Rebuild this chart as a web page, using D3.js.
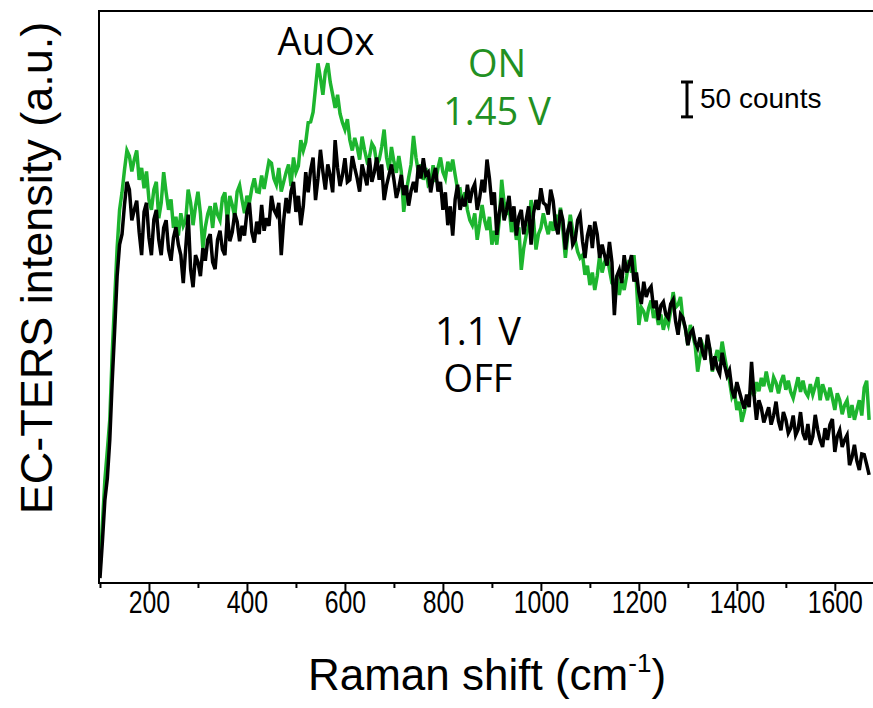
<!DOCTYPE html>
<html>
<head>
<meta charset="utf-8">
<script src="https://cdn.jsdelivr.net/npm/d3@7"></script>
<style>
  body { margin: 0; background: #fff; }
  svg { display: block; }
</style>
</head>
<body>
<div id="chart"></div>
<script>
// Raman shift axis: main readings every 10 cm-1, extra readings in between
var shift = d3.range(100, 1671, 10);
var shiftMid = d3.range(105, 1666, 10);

// 1.1 V (OFF), counts
var offCounts = [
  7, 119, 205, 363, 485, 542, 564, 535, 503, 532,
  495, 521, 492, 509, 478, 495, 485, 430, 528, 424,
  460, 480, 492, 460, 492, 478, 528, 503, 518, 512,
  532, 503, 518, 542, 523, 555, 528, 470, 552, 561,
  532, 513, 589, 592, 549, 621, 564, 584, 635, 569,
  609, 578, 595, 561, 585, 609, 589, 578, 549, 585,
  578, 566, 556, 541, 575, 599, 609, 589, 581, 561,
  535, 513, 498, 571, 549, 571, 564, 535, 578, 607,
  542, 499, 552, 535, 518, 498, 535, 521, 485, 549,
  566, 542, 564, 513, 535, 478, 518, 492, 528, 466,
  513, 518, 466, 470, 489, 384, 449, 470, 456, 432,
  417, 432, 420, 394, 377, 403, 380, 406, 356, 380,
  341, 363, 337, 331, 356, 305, 308, 330, 297, 277,
  288, 262, 270, 317, 234, 251, 241, 227, 260, 219,
  234, 222, 212, 245, 205, 198, 241, 205, 222, 227,
  188, 219, 205, 169, 198, 162, 184, 155
];
var offCountsMid = [
  60, 150, 290, 440, 500, 575, 520, 548, 470, 545,
  470, 535, 470, 520, 462, 510, 470, 480, 450, 470,
  440, 462, 500, 450, 505, 470, 490, 530, 490, 498,
  545, 488, 500, 505, 512, 535, 545, 520, 530, 575,
  555, 540, 560, 610, 580, 590, 600, 560, 595, 585,
  575, 612, 580, 600, 570, 575, 610, 600, 570, 600,
  552, 585, 570, 562, 560, 580, 585, 560, 595, 575,
  560, 540, 550, 535, 540, 545, 572, 552, 560, 580,
  560, 530, 520, 555, 540, 525, 500, 540, 530, 535,
  545, 528, 548, 500, 520, 505, 485, 520, 490, 498,
  480, 500, 485, 455, 460, 440, 430, 445, 470, 445,
  400, 410, 425, 405, 398, 385, 400, 375, 385, 365,
  358, 345, 352, 320, 335, 325, 300, 312, 305, 265,
  275, 250, 252, 270, 262, 230, 252, 240, 232, 245,
  215, 240, 220, 215, 228, 210, 220, 195, 205, 235,
  210, 195, 212, 180, 175, 185, 170
];

// 1.45 V (ON), counts
var onCounts = [
  19, 148, 234, 406, 535, 592, 612, 607, 578, 566,
  549, 564, 523, 589, 535, 509, 498, 512, 564, 513,
  561, 480, 529, 509, 528, 552, 518, 542, 561, 549,
  555, 566, 561, 584, 585, 602, 571, 561, 589, 569,
  589, 635, 632, 661, 710, 724, 733, 718, 681, 673,
  650, 635, 638, 607, 621, 611, 624, 607, 650, 592,
  604, 612, 532, 581, 641, 589, 578, 571, 599, 595,
  589, 604, 607, 564, 542, 535, 513, 492, 542, 506,
  485, 485, 578, 528, 503, 492, 449, 499, 549, 478,
  509, 513, 518, 528, 538, 466, 528, 492, 466, 442,
  427, 420, 470, 460, 449, 427, 413, 420, 463, 470,
  370, 389, 394, 380, 370, 363, 370, 417, 399, 377,
  341, 356, 303, 341, 348, 303, 334, 346, 305, 267,
  248, 231, 262, 280, 288, 294, 303, 274, 287, 288,
  277, 274, 280, 274, 274, 285, 282, 262, 274, 280,
  248, 262, 255, 237, 234, 262, 280, 234
];
var onCountsMid = [
  85, 190, 330, 480, 560, 620, 590, 620, 595, 590,
  535, 575, 545, 560, 550, 525, 530, 520, 545, 540,
  530, 510, 540, 545, 520, 560, 555, 525, 570, 530,
  545, 580, 560, 565, 605, 580, 595, 575, 600, 610,
  598, 620, 660, 675, 745, 700, 745, 700, 700, 660,
  665, 620, 625, 640, 605, 630, 600, 625, 610, 625,
  588, 590, 560, 600, 610, 600, 595, 575, 575, 610,
  580, 590, 585, 565, 560, 520, 530, 515, 520, 525,
  505, 520, 545, 540, 520, 510, 480, 510, 520, 500,
  530, 500, 505, 515, 505, 500, 505, 475, 470, 455,
  445, 440, 445, 470, 430, 440, 435, 440, 445, 430,
  395, 375, 405, 390, 385, 380, 390, 395, 410, 365,
  370, 340, 325, 330, 335, 320, 318, 325, 290, 275,
  260, 245, 268, 268, 275, 282, 285, 295, 272, 298,
  290, 265, 295, 290, 268, 270, 295, 285, 262, 265,
  272, 242, 262, 255, 248, 240, 290
];

var xTicks = [200, 400, 600, 800, 1000, 1200, 1400, 1600];
var xMinorTicks = [100, 300, 500, 700, 900, 1100, 1300, 1500];

var width = 873,
    height = 708,
    plotLeft = 99,
    plotTop = 11,
    plotRight = 875,
    plotBottom = 583;

var offColor = "#000000",
    onLine = "#1db52e",
    onText = "#229022";

// merge the two sets of readings into one spectrum
function spectrum(xs, ys, xsMid, ysMid) {
    var pts = d3.zip(xs, ys).concat(d3.zip(xsMid, ysMid));
    return pts.sort(function (a, b) { return a[0] - b[0]; });
}

var svg = d3.select("#chart").append("svg")
    .attr("width", width)
    .attr("height", height);

var x = d3.scaleLinear().domain([98, 1682]).range([plotLeft, plotRight]);
var y = d3.scaleLinear().domain([0, 820]).range([plotBottom, plotTop]);

svg.append("clipPath").attr("id", "plotArea")
  .append("rect")
    .attr("x", plotLeft)
    .attr("y", plotTop)
    .attr("width", plotRight - plotLeft)
    .attr("height", plotBottom - plotTop);

var line = d3.line()
    .x(function (d) { return x(d[0]); })
    .y(function (d) { return y(d[1]); });

var plot = svg.append("g").attr("clip-path", "url(#plotArea)");

plot.append("path")
    .datum(spectrum(shift, onCounts, shiftMid, onCountsMid))
    .attr("d", line)
    .style("fill", "none")
    .style("stroke", onLine)
    .style("stroke-width", "3.5px");

plot.append("path")
    .datum(spectrum(shift, offCounts, shiftMid, offCountsMid))
    .attr("d", line)
    .style("fill", "none")
    .style("stroke", offColor)
    .style("stroke-width", "3.5px");

// frame
svg.append("rect")
    .attr("x", plotLeft)
    .attr("y", plotTop)
    .attr("width", plotRight - plotLeft)
    .attr("height", plotBottom - plotTop)
    .style("fill", "none")
    .style("stroke", "#000")
    .style("stroke-width", "2px");

// x axis, labels squeezed like the narrow font of the original
var gx = svg.append("g")
    .attr("transform", "translate(0," + plotBottom + ")")
    .call(d3.axisBottom(x).tickValues(xTicks).tickSize(8).tickPadding(0).tickFormat(d3.format("d")));

gx.select(".domain").remove();
gx.selectAll(".tick line").style("stroke-width", "2px");
gx.selectAll(".tick text")
    .attr("transform", "scale(0.8,1)")
    .style("font-family", "'Liberation Sans', Arial, sans-serif")
    .style("font-size", "31px")
    .style("fill", "#000");

svg.append("g")
    .attr("transform", "translate(0," + plotBottom + ")")
    .call(d3.axisBottom(x).tickValues(xMinorTicks).tickSize(5).tickFormat(""))
    .call(function (g) { g.select(".domain").remove(); })
    .selectAll(".tick line").style("stroke-width", "2px");

// axis titles
var title = svg.append("text")
    .attr("x", 487)
    .attr("y", 690)
    .attr("text-anchor", "middle")
    .style("font-family", "'Liberation Sans', Arial, sans-serif")
    .style("font-size", "44px")
    .style("fill", "#000");
title.append("tspan").text("Raman shift (cm");
title.append("tspan").text("-1").attr("dy", -18).style("font-size", "26px");
title.append("tspan").text(")").attr("dy", 18);

svg.append("text")
    .attr("transform", "translate(52,268) rotate(-90)")
    .attr("text-anchor", "middle")
    .style("font-family", "'Liberation Sans', Arial, sans-serif")
    .style("font-size", "45px")
    .style("fill", "#000")
    .text("EC-TERS intensity (a.u.)");

// annotations
function note(txt, cx, cy, color) {
    svg.append("text")
        .attr("x", cx)
        .attr("y", cy)
        .attr("text-anchor", "middle")
        .style("font-family", "'Open Sans', 'Noto Sans', sans-serif")
        .style("font-size", "38px")
        .style("fill", color)
        .text(txt);
}
note("AuOx", 326, 55, "#000");
note("ON", 497, 77, onText);
note("1.45 V", 497, 125, onText);
note("1.1 V", 478, 345, "#000");
note("OFF", 478, 392, "#000");

// 50 counts scale bar
var barX = 687, barTop = 82;
var barLen = y(0) - y(50);
svg.append("line")
    .attr("x1", barX).attr("x2", barX)
    .attr("y1", barTop).attr("y2", barTop + barLen)
    .style("stroke", "#000").style("stroke-width", "3px");
[barTop, barTop + barLen].forEach(function (yy) {
    svg.append("line")
        .attr("x1", barX - 6).attr("x2", barX + 6)
        .attr("y1", yy).attr("y2", yy)
        .style("stroke", "#000").style("stroke-width", "3px");
});
svg.append("text")
    .attr("x", 700)
    .attr("y", 108)
    .style("font-family", "'Liberation Sans', Arial, sans-serif")
    .style("font-size", "28px")
    .style("fill", "#000")
    .text("50 counts");
</script>
</body>
</html>
